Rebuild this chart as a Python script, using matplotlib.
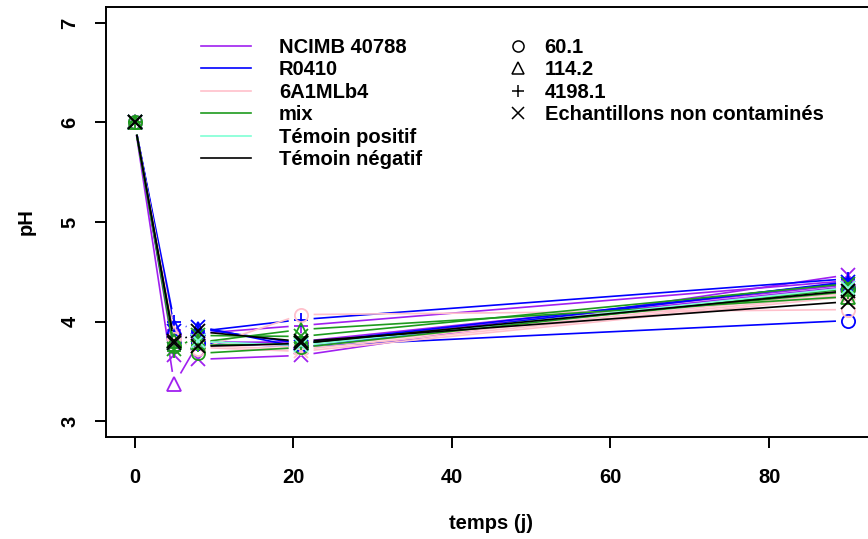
import matplotlib
matplotlib.use("Agg")
import matplotlib.pyplot as plt
from matplotlib.lines import Line2D
import numpy as np

plt.rcParams['font.family'] = ['Liberation Sans', 'DejaVu Sans']
plt.rcParams['font.weight'] = 'bold'

days = [0, 5, 8, 21, 90]

# NCIMB 40788 (purple)
ncimb_60 = [6.0, 3.85, 3.80, 3.78, 4.35]
ncimb_114 = [6.0, 3.37, 3.78, 3.80, 4.37]
ncimb_4198 = [6.0, 3.92, 3.88, 3.96, 4.41]
ncimb_nc = [6.0, 3.66, 3.62, 3.66, 4.47]
# R0410 (blue)
r0410_60 = [6.0, 3.80, 3.78, 3.75, 4.01]
r0410_114 = [6.0, 3.95, 3.93, 3.78, 4.39]
r0410_4198 = [6.0, 4.00, 3.90, 4.02, 4.43]
r0410_nc = [6.0, 3.90, 3.95, 3.74, 4.40]
# 6A1MLb4 (pink)
lb4_60 = [6.0, 3.82, 3.72, 4.07, 4.12]
lb4_114 = [6.0, 3.88, 3.80, 3.74, 4.29]
lb4_4198 = [6.0, 3.76, 3.76, 3.72, 4.27]
lb4_nc = [6.0, 3.78, 3.74, 3.70, 4.25]
# mix (green)
mix_60 = [6.0, 3.75, 3.68, 3.74, 4.33]
mix_114 = [6.0, 3.80, 3.79, 3.92, 4.25]
mix_4198 = [6.0, 3.70, 3.76, 3.78, 4.30]
mix_nc = [6.0, 3.72, 3.86, 3.85, 4.38]
# Témoins
temoin_pos = [6.0, 3.78, 3.80, 3.76, 4.34]
temoin_neg2 = [6.0, 3.80, 3.75, 3.78, 4.31]
temoin_neg = [6.0, 3.78, 3.90, 3.80, 4.20]

strain_labels = ["NCIMB 40788", "R0410", "6A1MLb4", "mix", "Témoin positif", "Témoin négatif"]
strain_colors = ["#A020F0", "#0000FF", "#FFC0CB", "#1E9B1E", "#7FFFD4", "#000000"]
inoc_labels = ["60.1", "114.2", "4198.1", "Echantillons non contaminés"]
inoc_markers = ["o", "^", "+", "x"]

series = [
    (ncimb_60, 0, 0), (ncimb_114, 0, 1), (ncimb_4198, 0, 2), (ncimb_nc, 0, 3),
    (r0410_60, 1, 0), (r0410_114, 1, 1), (r0410_4198, 1, 2), (r0410_nc, 1, 3),
    (lb4_60, 2, 0), (lb4_114, 2, 1), (lb4_4198, 2, 2), (lb4_nc, 2, 3),
    (mix_60, 3, 0), (mix_114, 3, 1), (mix_4198, 3, 2), (mix_nc, 3, 3),
    (temoin_pos, 4, 3), (temoin_neg2, 5, 3), (temoin_neg, 5, 3),
]

FS = 14.5
fig = plt.figure(figsize=(8.68, 5.39), dpi=100)
ax = fig.add_axes([106 / 868, 1 - 437 / 539, (877 - 106) / 868, (437 - 7) / 539])
ax.set_xlim(-3.6, 93.6)
ax.set_ylim(2.84, 7.16)

gap = 12.5  # pixels, like R type="b"
fig.canvas.draw()
tr = ax.transData
inv = tr.inverted()

for vals, si, mi in series:
    col = strain_colors[si]
    pts = tr.transform(np.column_stack([days, vals]))
    for k in range(len(pts) - 1):
        p0, p1 = pts[k], pts[k + 1]
        d = p1 - p0
        L = np.hypot(*d)
        if L <= 2 * gap:
            continue
        u = d / L
        a = inv.transform(p0 + u * gap)
        b = inv.transform(p1 - u * gap)
        ax.plot([a[0], b[0]], [a[1], b[1]], color=col, lw=1.2, solid_capstyle='butt')
    ax.plot(days, vals, linestyle='none', marker=inoc_markers[mi], ms=9.5,
            mfc='none', mec=col, mew=1.3, color=col)

ax.spines['right'].set_visible(False)
for s in ['left', 'bottom', 'top']:
    ax.spines[s].set_linewidth(1.4)

ax.set_xticks([0, 20, 40, 60, 80])
ax.set_yticks([3, 4, 5, 6, 7])
ax.tick_params(axis='both', length=8, width=1.4, labelsize=FS)
ax.tick_params(axis='x', pad=14)
ax.tick_params(axis='y', pad=11)
for lab in ax.get_yticklabels():
    lab.set_rotation(90)
    lab.set_va('center')
ax.set_xlabel("temps (j)", fontsize=FS, fontweight='bold', labelpad=20)
ax.set_ylabel("pH", fontsize=FS, fontweight='bold', labelpad=18)

h1 = [Line2D([0], [0], color=c, lw=1.2) for c in strain_colors]
leg1 = ax.legend(h1, strain_labels, loc='upper left', bbox_to_anchor=(95 / 771, 1 - 31 / 430),
                 frameon=False, fontsize=FS, handlelength=2.48, handletextpad=1.39,
                 labelspacing=0.17, borderpad=0, borderaxespad=0)
ax.add_artist(leg1)
h2 = [Line2D([0], [0], color='black', linestyle='none', marker=m, ms=8, mfc='none', mew=1.1)
      for m in inoc_markers]
ax.legend(h2, inoc_labels, loc='upper left', bbox_to_anchor=(402 / 771, 1 - 31 / 430),
          frameon=False, fontsize=FS, handlelength=1.0, handletextpad=0.82,
          labelspacing=0.17, borderpad=0, borderaxespad=0)

fig.savefig("out.png", dpi=100)
